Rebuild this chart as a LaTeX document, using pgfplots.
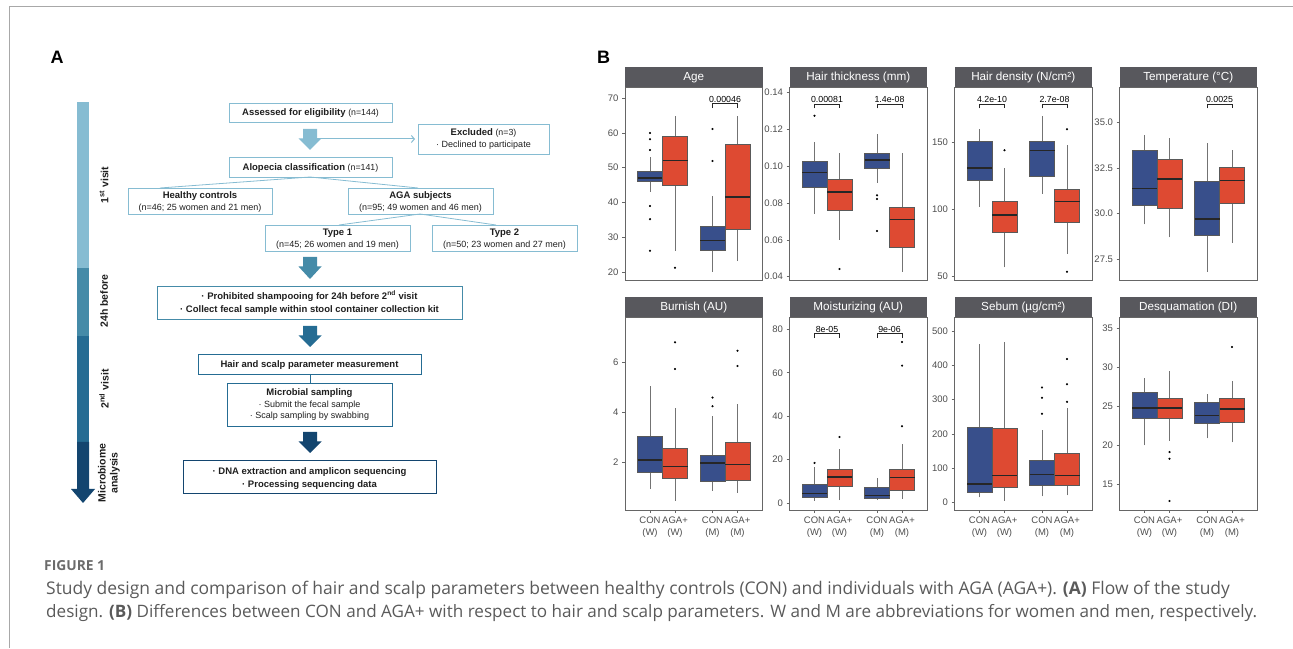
\documentclass[border=0pt]{standalone}
\usepackage{fontspec}
\setmainfont{Liberation Sans}
\newfontfamily\capfont{Open Sans}
\usepackage{pgfplots}
\pgfplotsset{compat=1.18}
\usetikzlibrary{arrows.meta}

\definecolor{con}{HTML}{384F8B}
\definecolor{aga}{HTML}{DE4A32}
\definecolor{stripgray}{HTML}{58585D}
\definecolor{framegray}{HTML}{A8A8A8}
\definecolor{capgray}{HTML}{5A5A5A}
\definecolor{ticktext}{HTML}{4D4D4D}
\definecolor{b1}{HTML}{86BCD2}
\definecolor{b2}{HTML}{458BA8}
\definecolor{b3}{HTML}{256C93}
\definecolor{b4}{HTML}{13456F}
\definecolor{fltext}{HTML}{1E1E1E}

\newcommand{\fs}[1]{\fontsize{#1}{#1}\selectfont}
\newcommand{\nn}[1]{{\mdseries\fs{8.8}#1}}

% facet strip above a panel
\newcommand{\strip}[1]{%
  \fill[stripgray] (rel axis cs:0,1) rectangle ([yshift=19.5pt]rel axis cs:1,1);
  \node[text=white, font=\fs{11.7}] at ([yshift=9.75pt]rel axis cs:0.5,1) {#1};}
% significance bracket: left x, centre x, right x, low y, high y, label
\newcommand{\pbr}[6]{%
  \draw[black!85, line width=0.5pt] (axis cs:#1,#4) -- (axis cs:#1,#5) -- (axis cs:#3,#5) -- (axis cs:#3,#4);
  \node[anchor=south, inner sep=1.2pt, font=\fs{8.8}] at (axis cs:#2,#5) {#6};}
% one box: fill, left, centre, right, lower whisker, lower quartile, median, upper quartile, upper whisker
\newcommand{\bx}[9]{%
  \addplot[whisk] coordinates {(#3,#5) (#3,#6)};
  \addplot[whisk] coordinates {(#3,#8) (#3,#9)};
  \addplot[fill=#1, draw=black!65, line width=0.7pt] coordinates {(#2,#6) (#4,#6) (#4,#8) (#2,#8)} -- cycle;
  \addplot[black!85, line width=1.5pt] coordinates {(#2,#7) (#4,#7)};}
\newcommand{\cw}[5]{\bx{con}{0.6}{0.8}{1.0}{#1}{#2}{#3}{#4}{#5}}
\newcommand{\aw}[5]{\bx{aga}{1.0}{1.2}{1.4}{#1}{#2}{#3}{#4}{#5}}
\newcommand{\cm}[5]{\bx{con}{1.6}{1.8}{2.0}{#1}{#2}{#3}{#4}{#5}}
\newcommand{\am}[5]{\bx{aga}{2.0}{2.2}{2.4}{#1}{#2}{#3}{#4}{#5}}

\pgfplotsset{
  facet/.style={
    scale only axis, width=137.5pt, height=193pt, anchor=south west,
    xmin=0.4, xmax=2.6, clip=false, scaled y ticks=false,
    axis line style={draw=black!60, line width=0.8pt},
    tick align=outside, major tick length=3pt, tick pos=left,
    tick style={draw=black!60, line width=0.6pt},
    yticklabel style={font=\fs{9.5}, text=ticktext},
    xtick=\empty,
  },
  bottomrow/.style={
    xtick={0.8,1.2,1.8,2.2},
    xticklabels={{CON\\(W)},{AGA+\\(W)},{CON\\(M)},{AGA+\\(M)}},
    xticklabel style={align=center, font=\fontsize{9.5}{12.5}\selectfont, text=ticktext},
  },
  whisk/.style={draw=black!55, line width=0.75pt},
  outl/.style={only marks, mark=*, mark size=0.85pt, mark options={draw=black, fill=black}},
}

\begin{document}
\begin{tikzpicture}[x=1pt, y=1pt]
\useasboundingbox (0pt,0pt) rectangle (1293pt,648pt);

\begin{scope}[shift={(0pt,648pt)}, yscale=-1]
  % page frame
  \draw[framegray, line width=1pt] (9,7) -- (1293,7);
  \draw[framegray, line width=1pt] (9,7) -- (9,648);
  \node[font=\bfseries\fs{18}] at (57,57) {A};
  \node[font=\bfseries\fs{18}] at (603.5,57) {B};

  % timeline bar
  \fill[b1] (77,102) rectangle (89,268);
  \fill[b2] (77,268) rectangle (89,336);
  \fill[b3] (77,336) rectangle (89,442);
  \fill[b4] (77,442) -- (89,442) -- (89,489) -- (95,489) -- (83,503) -- (71,489) -- (77,489) -- cycle;
  \node[rotate=90, font=\bfseries\fs{10.5}, text=fltext] at (104,185) {1\textsuperscript{st} visit};
  \node[rotate=90, font=\bfseries\fs{10.5}, text=fltext] at (104,301) {24h before};
  \node[rotate=90, font=\bfseries\fs{10.5}, text=fltext] at (104,389) {2\textsuperscript{nd} visit};
  \node[rotate=90, align=center, font=\bfseries\fontsize{10.5}{12}\selectfont, text=fltext] at (109,473) {Microbiome\\analysis};

  % block arrows
  \foreach \c/\t/\b in {b1/129/150, b2/257/279, b3/326/347, b4/432/453}{
    \fill[\c] (303,\t) -- (317,\t) -- (317,\t+9.5) -- (321.5,\t+9.5) -- (310,\b) -- (298.5,\t+9.5) -- (303,\t+9.5) -- cycle;
  }
  \draw[b1, line width=1pt, -{Straight Barb[length=3pt, width=7pt]}] (317,139) -- (415,139);

  % flow boxes
  \begin{scope}[text=fltext]
  \draw[b1, line width=0.8pt] (229,103) rectangle (392,122);
  \node[anchor=base, font=\bfseries\fs{9.5}] at (310.5,115.8) {Assessed for eligibility \nn{(n=144)}};
  \draw[b1, line width=0.8pt] (418,124) rectangle (549,154);
  \node[anchor=base, font=\bfseries\fs{9.5}] at (483.5,135.8) {Excluded \nn{(n=3)}};
  \node[anchor=base, font=\fs{9}] at (483.5,147.8) {· Declined to participate};
  \draw[b1, line width=0.8pt] (229,157) rectangle (392,177);
  \node[anchor=base, font=\bfseries\fs{9.5}] at (310.5,170.3) {Alopecia classification \nn{(n=141)}};
  \draw[b1, line width=0.8pt] (310,177) -- (160,188);
  \draw[b1, line width=0.8pt] (310,177) -- (418,188);
  \draw[b1, line width=0.8pt] (128,188) rectangle (272,214);
  \node[anchor=base, font=\bfseries\fs{9.5}] at (200,198.3) {Healthy controls};
  \node[anchor=base, font=\fs{9}] at (200,210.3) {(n=46; 25 women and 21 men)};
  \draw[b1, line width=0.8pt] (348,188) rectangle (493,214);
  \node[anchor=base, font=\bfseries\fs{9.5}] at (420.5,198.3) {AGA subjects};
  \node[anchor=base, font=\fs{9}] at (420.5,210.3) {(n=95; 49 women and 46 men)};
  \draw[b1, line width=0.8pt] (420,214) -- (339,225);
  \draw[b1, line width=0.8pt] (420,214) -- (496,225);
  \draw[b1, line width=0.8pt] (265,225) rectangle (410,251);
  \node[anchor=base, font=\bfseries\fs{9.5}] at (337.5,235.3) {Type 1};
  \node[anchor=base, font=\fs{9}] at (337.5,247.3) {(n=45; 26 women and 19 men)};
  \draw[b1, line width=0.8pt] (432,225) rectangle (577,251);
  \node[anchor=base, font=\bfseries\fs{9.5}] at (504.5,235.3) {Type 2};
  \node[anchor=base, font=\fs{9}] at (504.5,247.3) {(n=50; 23 women and 27 men)};

  \draw[b2, line width=0.8pt] (157,286) rectangle (462,319);
  \node[anchor=base, font=\bfseries\fs{9.5}] at (309.5,299.5) {· Prohibited shampooing for 24h before 2\textsuperscript{nd} visit};
  \node[anchor=base, font=\bfseries\fs{9.5}] at (309.5,312.8) {· Collect fecal sample within stool container collection kit};

  \draw[b3, line width=0.8pt] (198,354) rectangle (421,374);
  \node[anchor=base, font=\bfseries\fs{9.5}] at (309.5,367.3) {Hair and scalp parameter measurement};
  \draw[b3, line width=0.8pt] (310,374) -- (310,383);
  \draw[b3, line width=0.8pt] (227,383) rectangle (392,426);
  \node[anchor=base, font=\bfseries\fs{9.5}] at (309.5,395.8) {Microbial sampling};
  \node[anchor=base, font=\fs{9}] at (309.5,407.3) {· Submit the fecal sample};
  \node[anchor=base, font=\fs{9}] at (309.5,418.8) {· Scalp sampling by swabbing};

  \draw[b4, line width=0.8pt] (183,460) rectangle (436,493);
  \node[anchor=base, font=\bfseries\fs{9.5}] at (309.5,474.3) {· DNA extraction and amplicon sequencing};
  \node[anchor=base, font=\bfseries\fs{9.5}] at (309.5,487.5) {· Processing sequencing data};
  \end{scope}

  % caption
  \node[anchor=base west, inner sep=0, font=\capfont\bfseries\fs{13.8}, text=capgray!90] at (44,570.5) {FIGURE 1};
  \node[anchor=base west, inner sep=0, font=\capfont\fs{17.45}, text=capgray] at (46,595) {Study design and comparison of hair and scalp parameters between healthy controls (CON) and individuals with AGA (AGA+). \textbf{(A)} Flow of the study};
  \node[anchor=base west, inner sep=0, font=\capfont\fs{17.1}, text=capgray] at (46,617.5) {design. \textbf{(B)} Differences between CON and AGA+ with respect to hair and scalp parameters. W and M are abbreviations for women and men, respectively.};
\end{scope}

% ---------- Row 1 ----------
\begin{axis}[facet, at={(625pt,368pt)}, ymin=17.7, ymax=73.2,
  ytick={20,30,40,50,60,70}, yticklabels={20,30,40,50,60,70}]
  \strip{Age}
  \cw{43.1}{46.06}{47.1}{49.0}{53}
  \aw{26.1}{45.0}{52.0}{59.1}{65}
  \cm{20}{26.1}{29.1}{33}{41.9}
  \am{23.1}{32.4}{41.6}{56.8}{65}
  \addplot[outl] coordinates {(0.8,60) (0.8,58.2) (0.8,55.1) (0.8,39) (0.8,35.2) (0.8,26.1)
    (1.2,21.2) (1.8,51.9) (1.8,61.1)};
  \pbr{1.8}{2.0}{2.2}{67.1}{68.4}{0.00046}
\end{axis}

\begin{axis}[facet, at={(789.5pt,368pt)}, ymin=0.0382, ymax=0.1431,
  ytick={0.04,0.06,0.08,0.10,0.12,0.14}, yticklabels={0.04,0.06,0.08,0.10,0.12,0.14}]
  \strip{Hair thickness (mm)}
  \cw{0.0741}{0.0884}{0.0965}{0.1027}{0.1134}
  \aw{0.0601}{0.0761}{0.0860}{0.0929}{0.1070}
  \cm{0.0911}{0.0989}{0.1034}{0.1070}{0.1174}
  \am{0.0427}{0.0559}{0.0712}{0.0775}{0.1070}
  \addplot[outl] coordinates {(0.8,0.1275) (1.2,0.0442) (1.8,0.0842) (1.8,0.0822) (1.8,0.0648)};
  \pbr{0.8}{1.0}{1.2}{0.1315}{0.1338}{0.00081}
  \pbr{1.8}{2.0}{2.2}{0.1315}{0.1338}{1.4e-08}
\end{axis}

\begin{axis}[facet, at={(954.5pt,368pt)}, ymin=47.5, ymax=191.5,
  ytick={50,100,150}, yticklabels={50,100,150}]
  \strip{Hair density (N/cm²)}
  \cw{102}{122.2}{131.1}{151}{160}
  \aw{57}{82.8}{96}{106}{130.9}
  \cm{112}{125.1}{144}{151}{170.2}
  \am{66.9}{90.6}{106.2}{115.2}{148.3}
  \addplot[outl] coordinates {(1.2,144.3) (2.2,160) (2.2,53.7)};
  \pbr{0.8}{1.0}{1.2}{175.6}{178.9}{4.2e-10}
  \pbr{1.8}{2.0}{2.2}{175.6}{178.9}{2.7e-08}
\end{axis}

\begin{axis}[facet, at={(1119.5pt,368pt)}, ymin=26.35, ymax=36.94,
  ytick={27.5,30,32.5,35}, yticklabels={27.5,30.0,32.5,35.0}]
  \strip{Temperature (°C)}
  \cw{29.40}{30.46}{31.38}{33.48}{34.29}
  \aw{28.69}{30.30}{31.89}{32.99}{34.16}
  \cm{26.80}{28.80}{29.69}{31.78}{33.88}
  \am{28.40}{30.54}{31.80}{32.55}{33.46}
  \pbr{1.8}{2.0}{2.2}{35.77}{36.0}{0.0025}
\end{axis}

% ---------- Row 2 ----------
\begin{axis}[facet, bottomrow, at={(625pt,138pt)}, ymin=0.105, ymax=7.79,
  ytick={2,4,6}, yticklabels={2,4,6}]
  \strip{Burnish (AU)}
  \cw{0.94}{1.59}{2.09}{3.02}{5.05}
  \aw{0.48}{1.36}{1.83}{2.56}{4.15}
  \cm{0.87}{1.24}{1.97}{2.30}{3.84}
  \am{0.79}{1.28}{1.91}{2.78}{4.31}
  \addplot[outl] coordinates {(1.2,6.78) (1.2,5.72) (1.8,4.58) (1.8,4.24) (2.2,6.45) (2.2,5.84)};
\end{axis}

\begin{axis}[facet, bottomrow, at={(789.5pt,138pt)}, ymin=-3.2, ymax=85.7,
  ytick={0,20,40,60,80}, yticklabels={0,20,40,60,80}]
  \strip{Moisturizing (AU)}
  \cw{1.1}{2.6}{4.4}{8.6}{16.4}
  \aw{1.4}{7.5}{12.0}{15.5}{24.8}
  \cm{1.4}{2.3}{3.4}{7.2}{11.7}
  \am{2.0}{6.0}{11.7}{15.5}{27.1}
  \addplot[outl] coordinates {(0.8,18.5) (1.2,30.4) (2.2,74.2) (2.2,63.3) (2.2,35.4)};
  \pbr{0.8}{1.0}{1.2}{76.0}{78.0}{8e-05}
  \pbr{1.8}{2.0}{2.2}{76.0}{78.0}{9e-06}
\end{axis}

\begin{axis}[facet, bottomrow, at={(954.5pt,138pt)}, ymin=-22.3, ymax=540.8,
  ytick={0,100,200,300,400,500}, yticklabels={0,100,200,300,400,500}]
  \strip{Sebum (µg/cm²)}
  \cw{14.6}{29.1}{53.4}{218.4}{463.1}
  \aw{4.9}{42.7}{77.7}{214.6}{467.0}
  \cm{17.5}{48.5}{80.6}{123.3}{209.7}
  \am{20.4}{48.5}{77.7}{141.8}{274.8}
  \addplot[outl] coordinates {(1.8,335) (1.8,304.9) (1.8,258.3) (2.2,418.5) (2.2,344.7) (2.2,293.2)};
\end{axis}

\begin{axis}[facet, bottomrow, at={(1119.5pt,138pt)}, ymin=11.76, ymax=36.5,
  ytick={15,20,25,30,35}, yticklabels={15,20,25,30,35}]
  \strip{Desquamation (DI)}
  \cw{20.03}{23.57}{24.81}{26.82}{28.65}
  \aw{20.63}{23.49}{24.81}{26.13}{29.55}
  \cm{20.93}{22.85}{23.87}{25.62}{26.60}
  \am{20.42}{22.94}{24.73}{26.09}{28.35}
  \addplot[outl] coordinates {(1.2,19.18) (1.2,18.33) (1.2,12.91) (2.2,32.66)};
\end{axis}
\end{tikzpicture}
\end{document}
